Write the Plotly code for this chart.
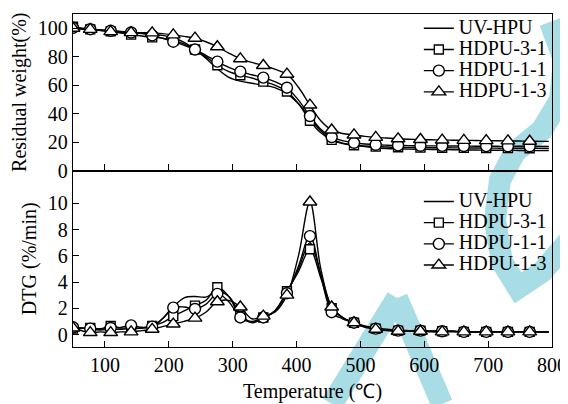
import plotly.graph_objects as go
from plotly.subplots import make_subplots

# temperature grid (degC); markers sit on every other point
temp = [50, 77, 93, 109, 125, 141, 158, 174, 190, 207, 224, 241, 258, 276, 294,
        312, 330, 348, 366, 385, 403, 421, 438, 455, 472, 490, 507, 524, 541, 559,
        576, 594, 611, 628, 645, 662, 680, 697, 714, 731, 748, 765, 795]
marker_idx = [0] + list(range(1, 42, 2))

names = ["UV-HPU", "HDPU-3-1", "HDPU-1-1", "HDPU-1-3"]
symbols = [None, "square", "circle", "triangle-up"]
msizes = [0, 9, 11, 12]

# residual weight (%)
tg_uv = [100, 99, 98.6, 98.2, 97.8, 97.2, 96.5, 95.8, 95, 93.5, 90, 85, 79, 71.5, 65.5,
         62.8, 61.3, 60, 58.3, 54, 47, 37, 28, 22, 19.2, 17.8, 16.8, 16, 15.5, 15.2,
         15, 14.9, 14.8, 14.7, 14.6, 14.5, 14.4, 14.3, 14.2, 14.2, 14.1, 14, 14]
tg_31 = [101, 99.2, 98.6, 97.8, 96.6, 95.5, 94.5, 93.6, 93, 91.5, 89, 85, 80, 74, 69.5,
         67, 65, 62.5, 60, 55.5, 47, 35, 26.5, 21.5, 19, 17.8, 17.2, 16.8, 16.5, 16.3,
         16.2, 16.1, 16, 16, 15.9, 15.9, 15.8, 15.8, 15.7, 15.7, 15.6, 15.6, 15.5]
tg_11 = [100.3, 99.3, 98.8, 98.2, 97.6, 97, 96.2, 95, 93, 90.5, 88, 85, 81, 76.5, 72.5,
         69.5, 67.3, 65.3, 62.5, 58.2, 49.5, 38.3, 29, 23.5, 21, 19.5, 18.6, 18.1, 17.8, 17.6,
         17.5, 17.4, 17.3, 17.3, 17.2, 17.2, 17.1, 17.1, 17, 17, 17, 17, 16.9]
tg_13 = [100, 99.2, 98.4, 97.6, 97.2, 96.9, 96.8, 96.7, 96.2, 95.3, 94.3, 93, 90.5, 87, 82.5,
         78.5, 76, 73.8, 71.2, 67.7, 58.5, 46, 35, 28.5, 26, 25, 24, 23.3, 22.8, 22.3,
         22, 21.8, 21.6, 21.4, 21.3, 21.2, 21.1, 21, 20.9, 20.8, 20.7, 20.6, 20.5]

# DTG (%/min)
dtg_uv = [0.6, 0.4, 0.35, 0.4, 0.4, 0.45, 0.5, 0.6, 1.2, 2.1, 2.8, 2.9, 2.85, 3.3, 2.9,
          1.6, 0.9, 1.25, 1.8, 3.2, 5.0, 7.0, 4.6, 2.1, 1.3, 0.9, 0.65, 0.5, 0.4, 0.35,
          0.3, 0.3, 0.25, 0.25, 0.25, 0.2, 0.2, 0.2, 0.2, 0.2, 0.2, 0.2, 0.2]
dtg_31 = [0.45, 0.5, 0.45, 0.65, 0.5, 0.5, 0.5, 0.65, 0.9, 1.4, 1.8, 2.2, 2.6, 3.6, 2.9,
          1.4, 1.0, 1.3, 1.8, 3.3, 4.8, 6.5, 4.3, 2.0, 1.3, 0.9, 0.6, 0.45, 0.35, 0.3,
          0.3, 0.3, 0.25, 0.25, 0.25, 0.2, 0.2, 0.2, 0.2, 0.2, 0.2, 0.2, 0.2]
dtg_11 = [0.55, 0.45, 0.4, 0.5, 0.55, 0.7, 0.55, 0.6, 1.2, 2.05, 2.1, 1.95, 2.3, 3.1, 2.5,
          1.3, 0.95, 1.3, 1.8, 3.15, 5.2, 7.5, 4.5, 1.7, 1.2, 0.9, 0.6, 0.45, 0.35, 0.3,
          0.3, 0.3, 0.25, 0.25, 0.25, 0.2, 0.2, 0.2, 0.2, 0.2, 0.2, 0.2, 0.2]
dtg_13 = [0.5, 0.15, 0.2, 0.15, 0.2, 0.2, 0.3, 0.4, 0.6, 0.8, 1.0, 1.25, 1.7, 2.5, 2.6,
          2.1, 1.2, 1.4, 1.7, 3.0, 6.0, 10.1, 5.0, 2.1, 1.3, 0.9, 0.55, 0.4, 0.3, 0.25,
          0.25, 0.25, 0.2, 0.2, 0.2, 0.2, 0.2, 0.2, 0.2, 0.2, 0.2, 0.2, 0.2]

tg = [tg_uv, tg_31, tg_11, tg_13]
dtg = [dtg_uv, dtg_31, dtg_11, dtg_13]

FONT = "Times New Roman, Liberation Serif, serif"
CYAN = "#a9dde6"
# the page body adds an 8px margin, so the figure is 8px smaller than the window
OFF = 8
W, H = 568 - OFF, 404 - OFF
L, R, T, B = 73 - OFF, 16, 14 - OFF, 57

fig = make_subplots(rows=2, cols=1, shared_xaxes=True, vertical_spacing=0,
                    row_heights=[0.47, 0.53])

mline = dict(color="black", width=1.4)
for row, data, leg in [(1, tg, "legend"), (2, dtg, "legend2")]:
    for ys in data:
        fig.add_trace(go.Scatter(x=temp, y=ys, mode="lines", line_shape="spline",
                                 line=dict(color="black", width=1.4), showlegend=False),
                      row=row, col=1)
    for k in range(1, 4):
        fig.add_trace(go.Scatter(x=[temp[i] for i in marker_idx],
                                 y=[data[k][i] for i in marker_idx], mode="markers",
                                 marker=dict(symbol=symbols[k], size=msizes[k], color="white",
                                             line=mline),
                                 showlegend=False), row=row, col=1)
    for k in range(4):
        mode = "lines" if k == 0 else "lines+markers"
        mk = dict() if k == 0 else dict(symbol=symbols[k], size=msizes[k], color="white",
                                         line=mline)
        label = f'<span style="font-size:20px;font-family:{FONT}">{names[k]}</span>'
        fig.add_trace(go.Scatter(x=[None], y=[None], mode=mode, name=label,
                                 line=dict(color="black", width=1.4), marker=mk,
                                 legend=leg, showlegend=True), row=row, col=1)


def px2paper(pts):
    # pts are window pixels
    pw, ph = W - L - R, H - T - B
    return [((x - OFF - L) / pw, (H - B - (y - OFF)) / ph) for x, y in pts]


def stroke(pts):
    pp = px2paper(pts)
    return "M " + " L ".join(f"{x:.4f},{y:.4f}" for x, y in pp)


# faint watermark strokes
wm = [
    [(550, 22), (564, 60), (560, 100), (542, 130), (515, 152), (500, 180), (495, 220),
     (502, 262), (518, 288), (542, 272), (568, 242)],
    [(397, 298), (442, 404)],
    [(397, 298), (332, 404)],
]
shapes = [dict(type="path", xref="paper", yref="paper", path=stroke(p), layer="below",
               line=dict(color=CYAN, width=22)) for p in wm]

tfont = dict(family=FONT, size=20, color="black")
axis_common = dict(range=[50, 800], dtick=100, ticks="inside", ticklen=6, tickwidth=1.3,
                   tickcolor="black", showline=True, linecolor="black", linewidth=1.3,
                   mirror=True, showgrid=False, zeroline=False, tickfont=tfont)
fig.update_xaxes(**axis_common)
fig.update_xaxes(showticklabels=False, row=1, col=1)
fig.update_xaxes(title=dict(text="Temperature (℃)", font=tfont, standoff=8), row=2, col=1)

yc = dict(ticks="inside", ticklen=6, tickwidth=1.3, tickcolor="black", showline=True,
          linecolor="black", linewidth=1.3, mirror=True, showgrid=False, zeroline=False,
          tickfont=tfont)
fig.update_yaxes(**yc, range=[0, 110], tickvals=[0, 20, 40, 60, 80, 100],
                 title=dict(text="Residual weight(%)", font=tfont, standoff=5), row=1, col=1)
fig.update_yaxes(**yc, range=[-0.95, 12.5], tickvals=[0, 2, 4, 6, 8, 10],
                 title=dict(text="DTG (%/min)", font=tfont, standoff=5), row=2, col=1)

leg = dict(font=dict(family=FONT, size=14, color="black"), bgcolor="rgba(0,0,0,0)",
           xanchor="left", yanchor="top", itemwidth=30, tracegroupgap=0)

fig.update_layout(
    width=W, height=H, margin=dict(l=L, r=R, t=T, b=B, autoexpand=False),
    plot_bgcolor="rgba(0,0,0,0)", paper_bgcolor="white",
    font=dict(family=FONT, size=20, color="black"),
    legend=dict(**leg, x=0.722, y=1.004),
    legend2=dict(**leg, x=0.722, y=0.484),
    shapes=shapes,
)

fig.write_html("out.html")
